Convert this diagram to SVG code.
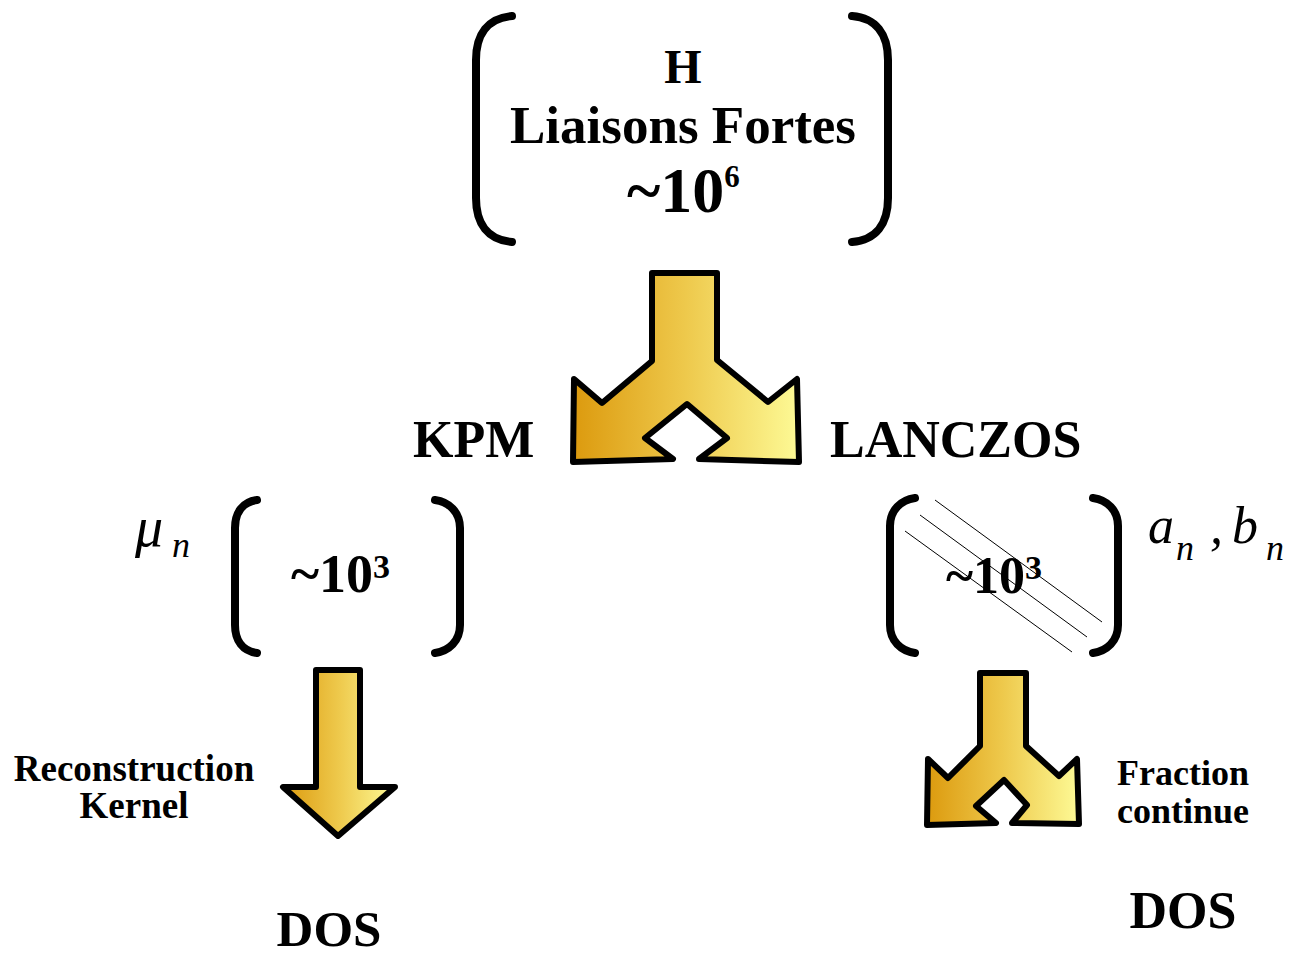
<svg xmlns="http://www.w3.org/2000/svg" width="1298" height="958" viewBox="0 0 1298 958">
<defs>
<linearGradient id="gold" x1="0" y1="0" x2="1" y2="0">
<stop offset="0" stop-color="#DC9A0E"/>
<stop offset="0.5" stop-color="#EEC94C"/>
<stop offset="1" stop-color="#FDFA96"/>
</linearGradient>
<style>
.br{fill:none;stroke:#000;stroke-width:8;stroke-linecap:round}
.arr{fill:url(#gold);stroke:#000;stroke-width:6;stroke-linejoin:round}
.t{font-family:"Liberation Serif","Times New Roman",serif;font-weight:bold;fill:#000}
.m{font-family:"Liberation Serif","Times New Roman",serif;font-style:italic;fill:#000}
.thin{stroke:#000;stroke-width:1}
</style>
</defs>
<rect width="1298" height="958" fill="#fff"/>

<g id="hamiltonian">
<path class="br" d="M512,16 C488,18 476,34 476,60 L476,198 C476,224 488,240 512,242"/>
<path class="br" d="M852,16 C876,18 888,34 888,60 L888,198 C888,224 876,240 852,242"/>
<text class="t" x="683" y="83" font-size="48" text-anchor="middle">H</text>
<text class="t" x="683" y="143" font-size="53" text-anchor="middle">Liaisons Fortes</text>
<text class="t" x="627" y="212" font-size="64">~10<tspan font-size="31" dy="-25">6</tspan></text>
</g>

<g id="connectors">
<path id="fork-main" class="arr" d="M652,273 L717,273 L717,360 L768,402 L797,379 L799,462 L699,459 L727,438 L687,404 L645,438 L673,459 L573,462 L574,379 L602,403 L652,361 Z"/>
<path id="arrow-kpm" class="arr" d="M316,670 L360,670 L360,787 L395,787 L338,836 L283,787 L316,787 Z"/>
<path id="fork-lanczos" class="arr" d="M980,673 L1026,673 L1026,746 L1059,776 L1077,759 L1079,824 L1012,823 L1027,805 L1004,780 L976,806 L996,823 L927,825 L928,759 L948,778 L980,746 Z"/>
</g>

<g id="kpm-label">
<text class="t" x="413" y="457" font-size="52">KPM</text>
</g>
<g id="lanczos-label">
<text class="t" x="830" y="457" font-size="52">LANCZOS</text>
</g>

<g id="kpm-matrix">
<path class="br" d="M257,500 C243,502 235,512 235,528 L235,625 C235,641 243,651 257,653"/>
<path class="br" d="M435,500 C449,502 460,512 460,528 L460,625 C460,641 449,651 435,653"/>
<text class="t" x="291" y="592" font-size="54">~10<tspan font-size="34" dy="-14">3</tspan></text>
<text class="m" x="135" y="546" font-size="56">μ</text>
<text class="m" x="172" y="557" font-size="36">n</text>
</g>

<g id="lanczos-matrix">
<path class="br" d="M915,498 C901,500 890,510 890,526 L890,625 C890,641 901,651 915,653"/>
<path class="br" d="M1093,498 C1107,500 1118,510 1118,526 L1118,625 C1118,641 1107,651 1093,653"/>
<line class="thin" x1="935" y1="500" x2="1102" y2="622"/>
<line class="thin" x1="920" y1="515" x2="1087" y2="637"/>
<line class="thin" x1="905" y1="531" x2="1072" y2="652"/>
<text class="t" x="946" y="593" font-size="52">~10<tspan font-size="34" dy="-14">3</tspan></text>
<text class="m" x="1148" y="543" font-size="52">a</text>
<text class="m" x="1176" y="560" font-size="36">n</text>
<text class="m" x="1210" y="543" font-size="52">,</text>
<text class="m" x="1232" y="543" font-size="52">b</text>
<text class="m" x="1266" y="560" font-size="36">n</text>
</g>

<g id="kpm-method">
<text class="t" x="134" y="781" font-size="37" text-anchor="middle">Reconstruction</text>
<text class="t" x="134" y="818" font-size="37" text-anchor="middle">Kernel</text>
</g>
<g id="lanczos-method">
<text class="t" x="1117" y="785" font-size="36">Fraction</text>
<text class="t" x="1117" y="823" font-size="36">continue</text>
</g>

<g id="dos-kpm">
<text class="t" x="329" y="946" font-size="51" text-anchor="middle">DOS</text>
</g>
<g id="dos-lanczos">
<text class="t" x="1183" y="928" font-size="52" text-anchor="middle">DOS</text>
</g>
</svg>
